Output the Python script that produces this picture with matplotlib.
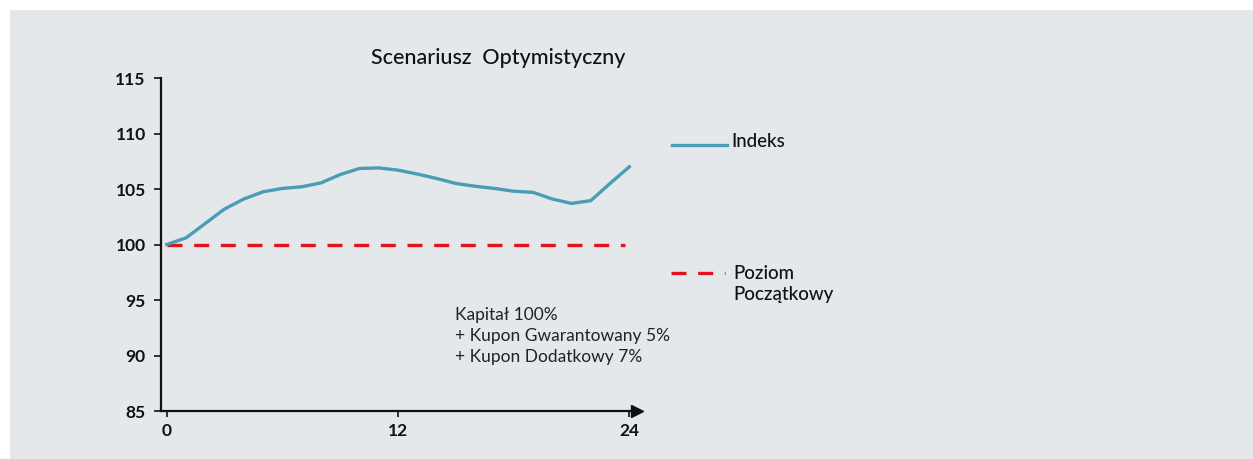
import matplotlib
matplotlib.use("Agg")
import matplotlib.pyplot as plt
from matplotlib.patches import Rectangle
from matplotlib.lines import Line2D

# ---- data ----
months = list(range(25))
indeks = [100.0, 100.6, 101.9, 103.2, 104.1, 104.75, 105.05, 105.2, 105.55, 106.3,
          106.85, 106.9, 106.7, 106.35, 105.95, 105.5, 105.25, 105.05, 104.8, 104.7,
          104.1, 103.7, 103.95, 105.5, 107.0]
poziom_x = [0, 23.8]
poziom = [100, 100]
yticks = [85, 90, 95, 100, 105, 110, 115]
xticks = [0, 12, 24]
xticklabels = ["0", "12", "24"]
title = "Scenariusz  Optymistyczny"
legend_labels = ["Indeks", "Poziom\nPoczątkowy"]
note = "Kapitał 100%\n+ Kupon Gwarantowany 5%\n+ Kupon Dodatkowy 7%"

plt.rcParams['font.family'] = ['Lato', 'DejaVu Sans']

W, H = 1253, 459
fig = plt.figure(figsize=(W / 100, H / 100), dpi=100)
fig.patch.set_facecolor("white")
bg = "#E4E8EB"
fig.add_artist(Rectangle((10 / W, 0), 1, (H - 10) / H, transform=fig.transFigure,
                         facecolor=bg, edgecolor="none", zorder=0))

ax = fig.add_axes([161 / W, 1 - 411 / H, (637 - 161) / W, (411 - 78) / H])
ax.set_facecolor("none")

teal = "#4B9CB6"
red = "#E0141C"
ax.plot(months, indeks, color=teal, lw=2.4, solid_joinstyle="round", zorder=3)
ax.plot(poziom_x, poziom, color=red, lw=2.4, dashes=(4.5, 3.5), zorder=2)

ax.set_xlim(-0.3, 24.4)
ax.set_ylim(85, 115)
ax.set_yticks(yticks)
ax.set_xticks(xticks)
ax.set_xticklabels(xticklabels)
for s in ["top", "right"]:
    ax.spines[s].set_visible(False)
for s in ["left", "bottom"]:
    ax.spines[s].set_linewidth(1.6)
    ax.spines[s].set_color("#111111")
ax.tick_params(axis="y", length=5, width=1.2, pad=6, labelsize=12.5, colors="#111111")
ax.tick_params(axis="x", length=4, width=1.2, pad=5, labelsize=12.5, colors="#111111")
for lab in ax.get_xticklabels() + ax.get_yticklabels():
    lab.set_fontweight("bold")
# arrow at end of x-axis
ax.plot(1, 0, marker=">", color="#111111", markersize=9, transform=ax.transAxes,
        clip_on=False, zorder=5)

fig.text(498 / W, 1 - 58 / H, title, ha="center", va="center", fontsize=15.5,
         color="#111111", fontweight="medium")

# legend (manual)
fig.add_artist(Line2D([672 / W, 727 / W], [1 - 145 / H, 1 - 145 / H], color=teal, lw=2.4,
                      transform=fig.transFigure))
fig.text(731 / W, 1 - 142 / H, legend_labels[0], ha="left", va="center", fontsize=13.5,
         color="#111111", fontweight="medium")
fig.add_artist(Line2D([671 / W, 725 / W], [1 - 273 / H, 1 - 273 / H], color=red, lw=2.4,
                      dashes=(4.5, 3.5), transform=fig.transFigure))
fig.text(733 / W, 1 - 284 / H, legend_labels[1], ha="left", va="center", fontsize=13.5,
         color="#111111", linespacing=1.25, fontweight="medium")

fig.text(455 / W, 1 - 336 / H, note, ha="left", va="center", fontsize=12.5,
         color="#222222", linespacing=1.4)

fig.savefig("out.png", dpi=100, facecolor="white")
